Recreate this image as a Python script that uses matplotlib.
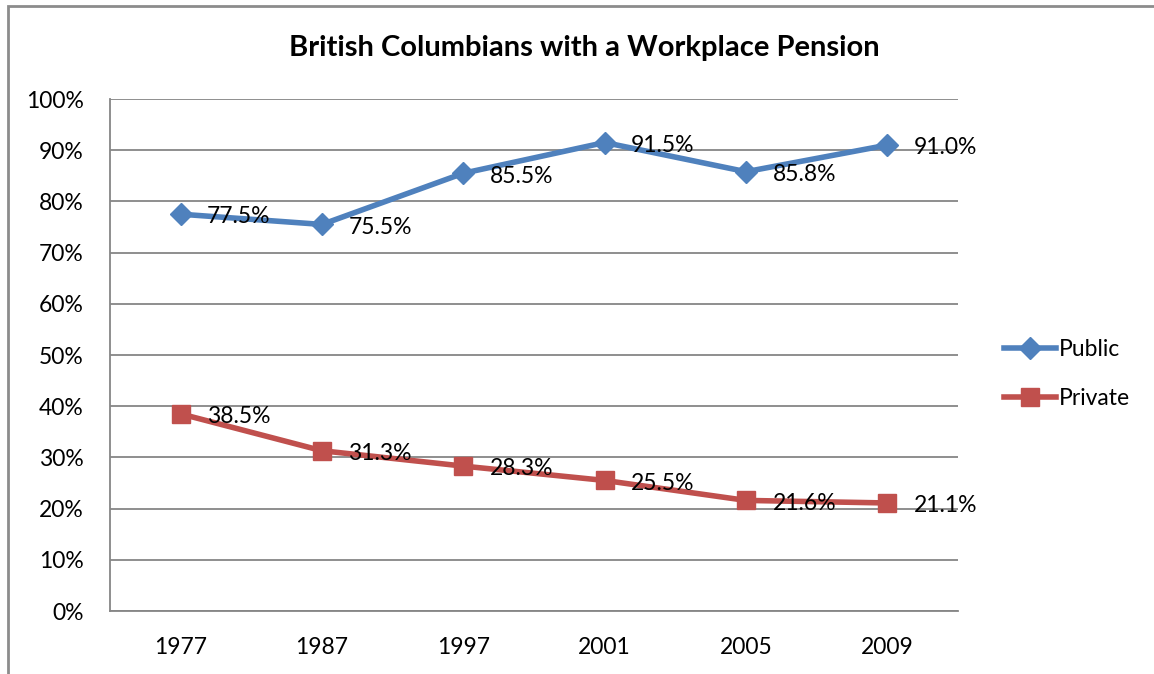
import matplotlib
matplotlib.use("Agg")
import matplotlib.pyplot as plt
from matplotlib.patches import Rectangle
from matplotlib.lines import Line2D

years = ["1977", "1987", "1997", "2001", "2005", "2009"]
public = [77.5, 75.5, 85.5, 91.5, 85.8, 91.0]
private = [38.5, 31.3, 28.3, 25.5, 21.6, 21.1]
yticks = [0, 10, 20, 30, 40, 50, 60, 70, 80, 90, 100]
title = "British Columbians with a Workplace Pension"

plt.rcParams['font.family'] = ['Lato', 'DejaVu Sans']

W, H = 1154, 674
fig = plt.figure(figsize=(W / 100, H / 100), dpi=100)
ax = fig.add_axes([110 / W, 1 - 611 / H, (958 - 110) / W, (611 - 99) / H])

blue = "#4F81BD"
red = "#C0504D"
grid = "#868686"
FS = 16.5
LW = 4

x = list(range(len(years)))
ax.plot(x, public, color=blue, lw=LW, marker="D", ms=11, mec=blue, mfc=blue,
        label="Public", zorder=3, solid_capstyle="round")
ax.plot(x, private, color=red, lw=LW, marker="s", ms=12.5, mec=red, mfc=red,
        label="Private", zorder=3, solid_capstyle="round")

for xi, v in zip(x, public):
    ax.annotate(f"{v:.1f}%", (xi, v), xytext=(19, -2), textcoords="offset points",
                ha="left", va="center", fontsize=FS, color="black", zorder=4)
for xi, v in zip(x, private):
    ax.annotate(f"{v:.1f}%", (xi, v), xytext=(19, -2), textcoords="offset points",
                ha="left", va="center", fontsize=FS, color="black", zorder=4)

ax.set_xlim(-0.5, len(years) - 0.5)
ax.set_ylim(0, 100)
ax.set_yticks(yticks)
ax.set_yticklabels([f"{t}%" for t in yticks])
ax.set_xticks(x)
ax.set_xticklabels(years)
ax.tick_params(axis="both", length=0, labelsize=FS, colors="black")
ax.tick_params(axis="y", pad=19)
ax.tick_params(axis="x", pad=19)
ax.yaxis.grid(True, color=grid, lw=1.3)
ax.set_axisbelow(True)
for s in ["top", "right"]:
    ax.spines[s].set_visible(False)
for s in ["left", "bottom"]:
    ax.spines[s].set_color(grid)
    ax.spines[s].set_linewidth(1.3)

fig.text(584 / W, 1 - 48 / H, title, ha="center", va="center",
         fontsize=21, fontweight="bold")

handles = [Line2D([0], [0], color=blue, lw=LW, marker="D", ms=11),
           Line2D([0], [0], color=red, lw=LW, marker="s", ms=12.5)]
fig.legend(handles, ["Public", "Private"], loc="center left",
           bbox_to_anchor=(983 / W, 1 - 374 / H), frameon=False, fontsize=FS,
           handlelength=2.3, handletextpad=0.1, labelspacing=1.2)

fig.patches.append(Rectangle((8 / W, -0.1), 1.2, (1 - 6 / H) + 0.1,
                             transform=fig.transFigure, fill=False,
                             ec="#8C8C8C", lw=2))

fig.savefig("out.png", dpi=100)
